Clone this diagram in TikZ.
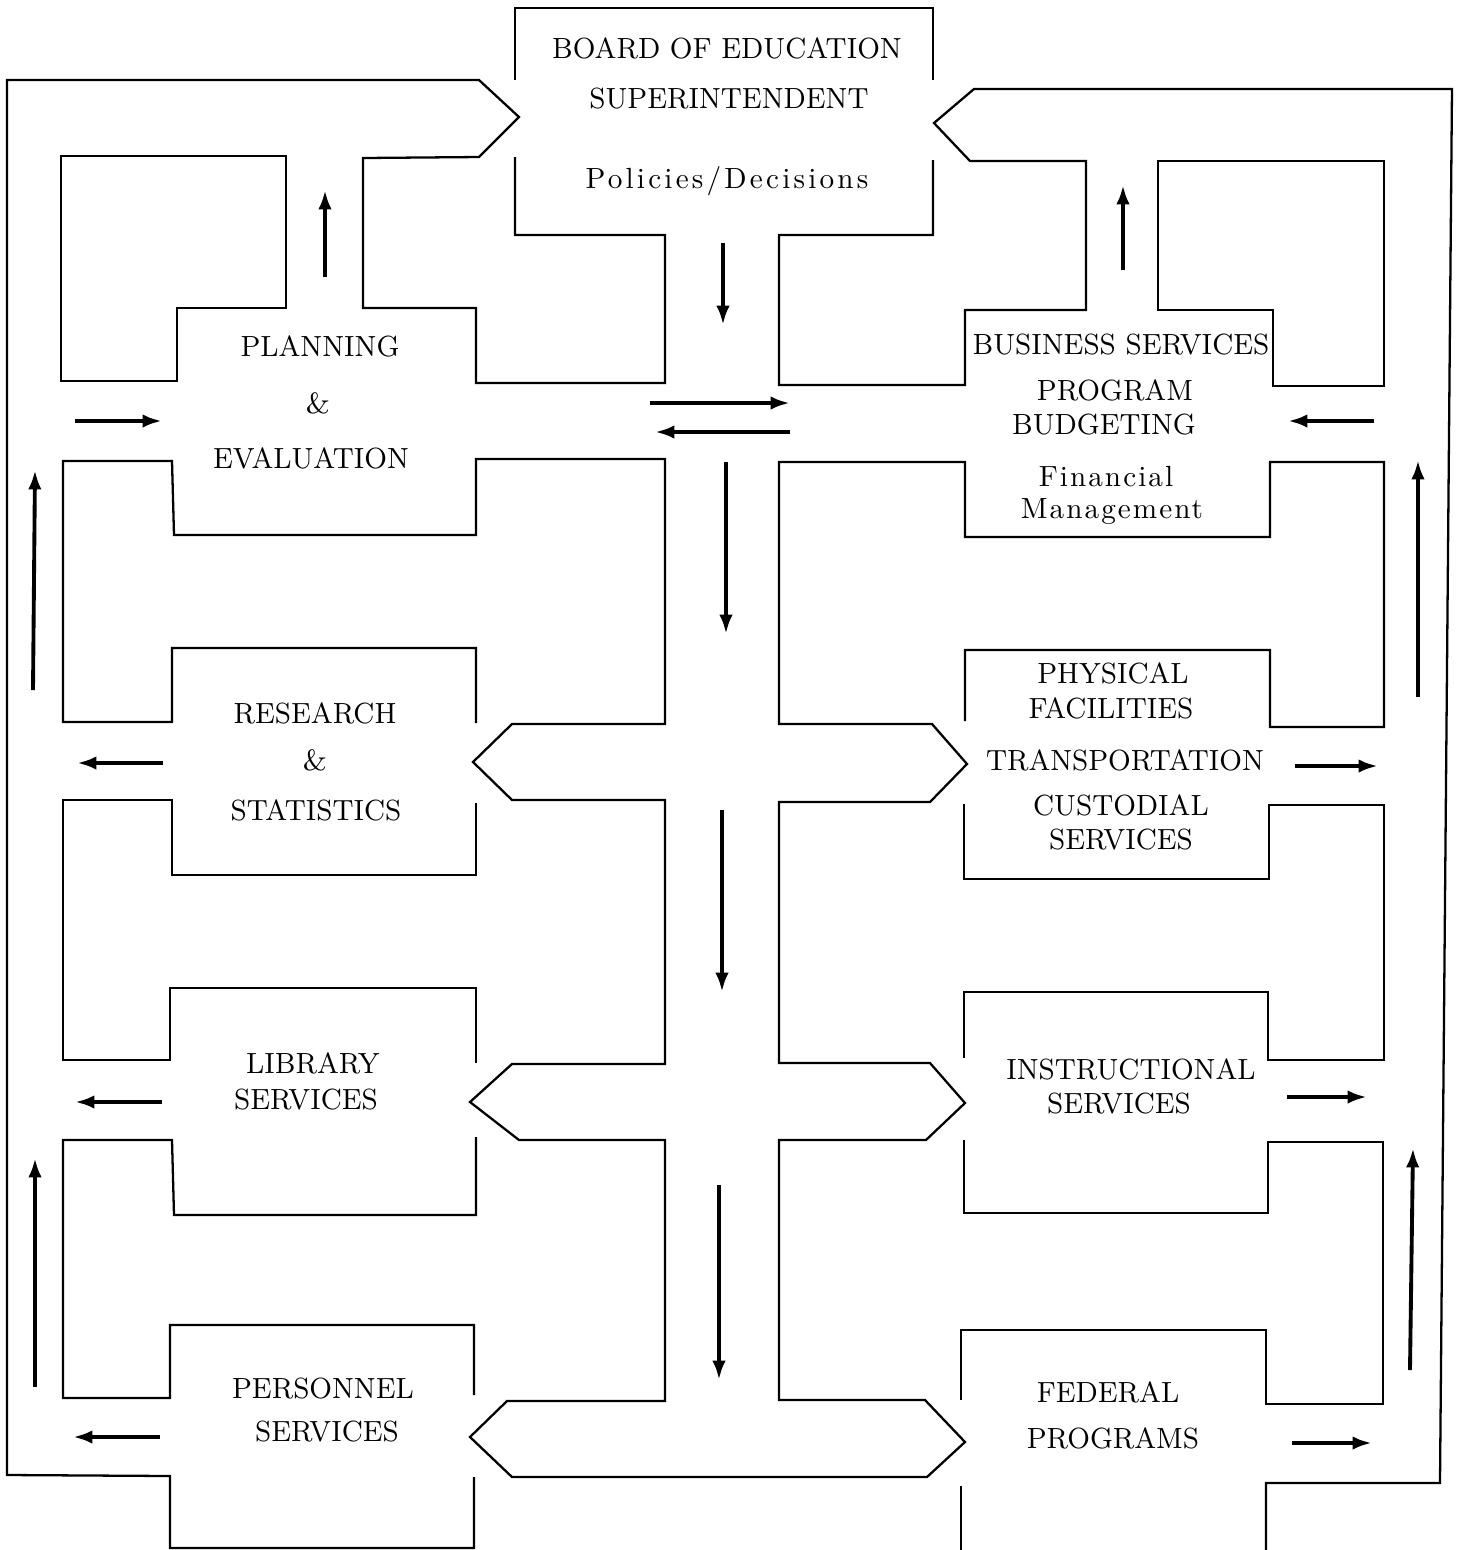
\documentclass[tikz,border=0pt]{standalone}
\usepackage{fontspec}
\usetikzlibrary{arrows.meta}
\newfontfamily\lmwide[LetterSpace=11]{lmroman10-regular.otf}
\newfontfamily\lmmid[LetterSpace=7]{lmroman10-regular.otf}
\newcommand\nx[1]{\scalebox{0.94}[1]{#1}}
\begin{document}
\begin{tikzpicture}[x=0.01cm,y=-0.01cm,
  wall/.style={line width=0.65pt, line join=miter},
  flow/.style={line width=1.1pt, -{Latex[length=5.5pt,width=3.8pt]}},
  lbl/.style={font=\fontsize{8.3}{10}\selectfont, inner sep=0pt}]
\useasboundingbox (0,0) rectangle (1459,1550);
% ---------- walls ----------
% board box top
\draw[wall] (515,80) -- (515,8) -- (933,8) -- (933,80);
% left outer loop and planning room
\draw[wall] (515,157) -- (515,235) -- (665,235) -- (665,383) -- (476,383) -- (476,308)
  -- (363,308) -- (363,158) -- (479,157) -- (519,117) -- (479,80) -- (7,80) -- (7,1475)
  -- (170,1476) -- (170,1548) -- (474,1548) -- (474,1477);
% right outer loop and business room
\draw[wall] (933,160) -- (933,235) -- (779,235) -- (779,385) -- (965,385) -- (965,310)
  -- (1086,310) -- (1086,161) -- (970,161) -- (934,123) -- (974,89) -- (1452,89)
  -- (1440,1483) -- (1266,1483) -- (1266,1550);
% islands
\draw[wall] (61,156) -- (286,156) -- (286,308) -- (177,308) -- (177,381) -- (61,381) -- cycle;
\draw[wall] (1158,161) -- (1384,161) -- (1384,386) -- (1273,386) -- (1273,310) -- (1158,310) -- cycle;
% central chain with hexagonal passages
\draw[wall] (476,723) -- (476,648) -- (172,648) -- (172,722) -- (63,722) -- (63,461)
  -- (172,461) -- (174,535) -- (476,535) -- (476,459) -- (665,459) -- (665,724)
  -- (512,724) -- (473,762) -- (512,800) -- (665,800) -- (665,1064) -- (512,1064)
  -- (470,1102) -- (519,1140) -- (665,1140) -- (665,1401) -- (507,1401) -- (470,1437)
  -- (512,1477) -- (927,1477) -- (965,1442) -- (925,1400) -- (779,1400) -- (779,1140)
  -- (926,1140) -- (965,1103) -- (930,1063) -- (779,1063) -- (779,802) -- (930,802)
  -- (967,764) -- (932,724) -- (779,724) -- (779,462) -- (965,462) -- (965,537)
  -- (1270,537) -- (1270,462) -- (1384,462) -- (1384,727) -- (1270,727) -- (1270,650)
  -- (965,650) -- (965,721);
% left lower islands
\draw[wall] (476,803) -- (476,875) -- (172,875) -- (172,800) -- (63,800) -- (63,1060)
  -- (170,1060) -- (170,988) -- (476,988) -- (476,1063);
\draw[wall] (476,1137) -- (476,1215) -- (174,1215) -- (172,1140) -- (63,1140) -- (63,1398)
  -- (170,1398) -- (170,1325) -- (474,1325) -- (474,1395);
% right lower islands
\draw[wall] (964,804) -- (964,879) -- (1269,879) -- (1269,805) -- (1384,805) -- (1384,1060)
  -- (1268,1060) -- (1268,992) -- (964,992) -- (964,1058);
\draw[wall] (964,1140) -- (964,1213) -- (1268,1213) -- (1268,1142) -- (1383,1142) -- (1383,1404)
  -- (1266,1404) -- (1266,1330) -- (961,1330) -- (961,1400);
\draw[wall] (961,1486) -- (961,1550);
% ---------- labels ----------
\node[lbl] (board) at (727,48) {\nx{BOARD OF EDUCATION}};
\node[lbl] (supt) at (729,99) {\nx{SUPERINTENDENT}};
\node[lbl] (pol) at (727,181) {\lmwide Policies/Decisions};
\node[lbl] (plan) at (320,346) {\nx{PLANNING}};
\node[lbl] (amp1) at (318,403) {\&};
\node[lbl] (eval) at (311,458) {\nx{EVALUATION}};
\node[lbl] (bus) at (1121,345) {\nx{BUSINESS SERVICES}};
\node[lbl] (prog) at (1115,390) {\nx{PROGRAM}};
\node[lbl] (budg) at (1104,425) {\nx{BUDGETING}};
\node[lbl] (fin) at (1106,477) {\lmmid Financial};
\node[lbl] (mgmt) at (1112,512) {\lmmid Management};
\node[lbl] (res) at (315,713) {\nx{RESEARCH}};
\node[lbl] (amp2) at (315,760) {\&};
\node[lbl] (stat) at (316,810) {\nx{STATISTICS}};
\node[lbl] (phys) at (1113,673) {\nx{PHYSICAL}};
\node[lbl] (fac) at (1111,708) {\nx{FACILITIES}};
\node[lbl] (trans) at (1125,760) {\nx{TRANSPORTATION}};
\node[lbl] (cust) at (1121,805) {\nx{CUSTODIAL}};
\node[lbl] (cserv) at (1121,840) {\nx{SERVICES}};
\node[lbl] (lib) at (313,1063) {\nx{LIBRARY}};
\node[lbl] (lserv) at (306,1100) {\nx{SERVICES}};
\node[lbl] (pers) at (323,1389) {\nx{PERSONNEL}};
\node[lbl] (pserv) at (327,1432) {\nx{SERVICES}};
\node[lbl] (instr) at (1131,1069) {\nx{INSTRUCTIONAL}};
\node[lbl] (iserv) at (1119,1104) {\nx{SERVICES}};
\node[lbl] (fed) at (1108,1392) {\nx{FEDERAL}};
\node[lbl] (fprog) at (1113,1438) {\nx{PROGRAMS}};
% ---------- arrows ----------
\draw[flow] (325,277) -- (325,190);
\draw[flow] (1123,270) -- (1123,185);
\draw[flow] (723,243) -- (723,325);
\draw[flow] (650,403) -- (790,403);
\draw[flow] (790,432) -- (655,432);
\draw[flow] (726,462) -- (726,634);
\draw[flow] (722,810) -- (722,992);
\draw[flow] (719,1185) -- (719,1380);
\draw[flow] (75,421) -- (162,421);
\draw[flow] (1374,421) -- (1288,421);
\draw[flow] (33,690) -- (35,470);
\draw[flow] (35,1387) -- (35,1158);
\draw[flow] (1418,697) -- (1418,460);
\draw[flow] (1410,1370) -- (1413,1148);
\draw[flow] (163,763) -- (77,763);
\draw[flow] (162,1102) -- (75,1102);
\draw[flow] (160,1437) -- (73,1437);
\draw[flow] (1295,766) -- (1378,766);
\draw[flow] (1287,1097) -- (1367,1097);
\draw[flow] (1292,1443) -- (1372,1443);
\end{tikzpicture}
\end{document}
